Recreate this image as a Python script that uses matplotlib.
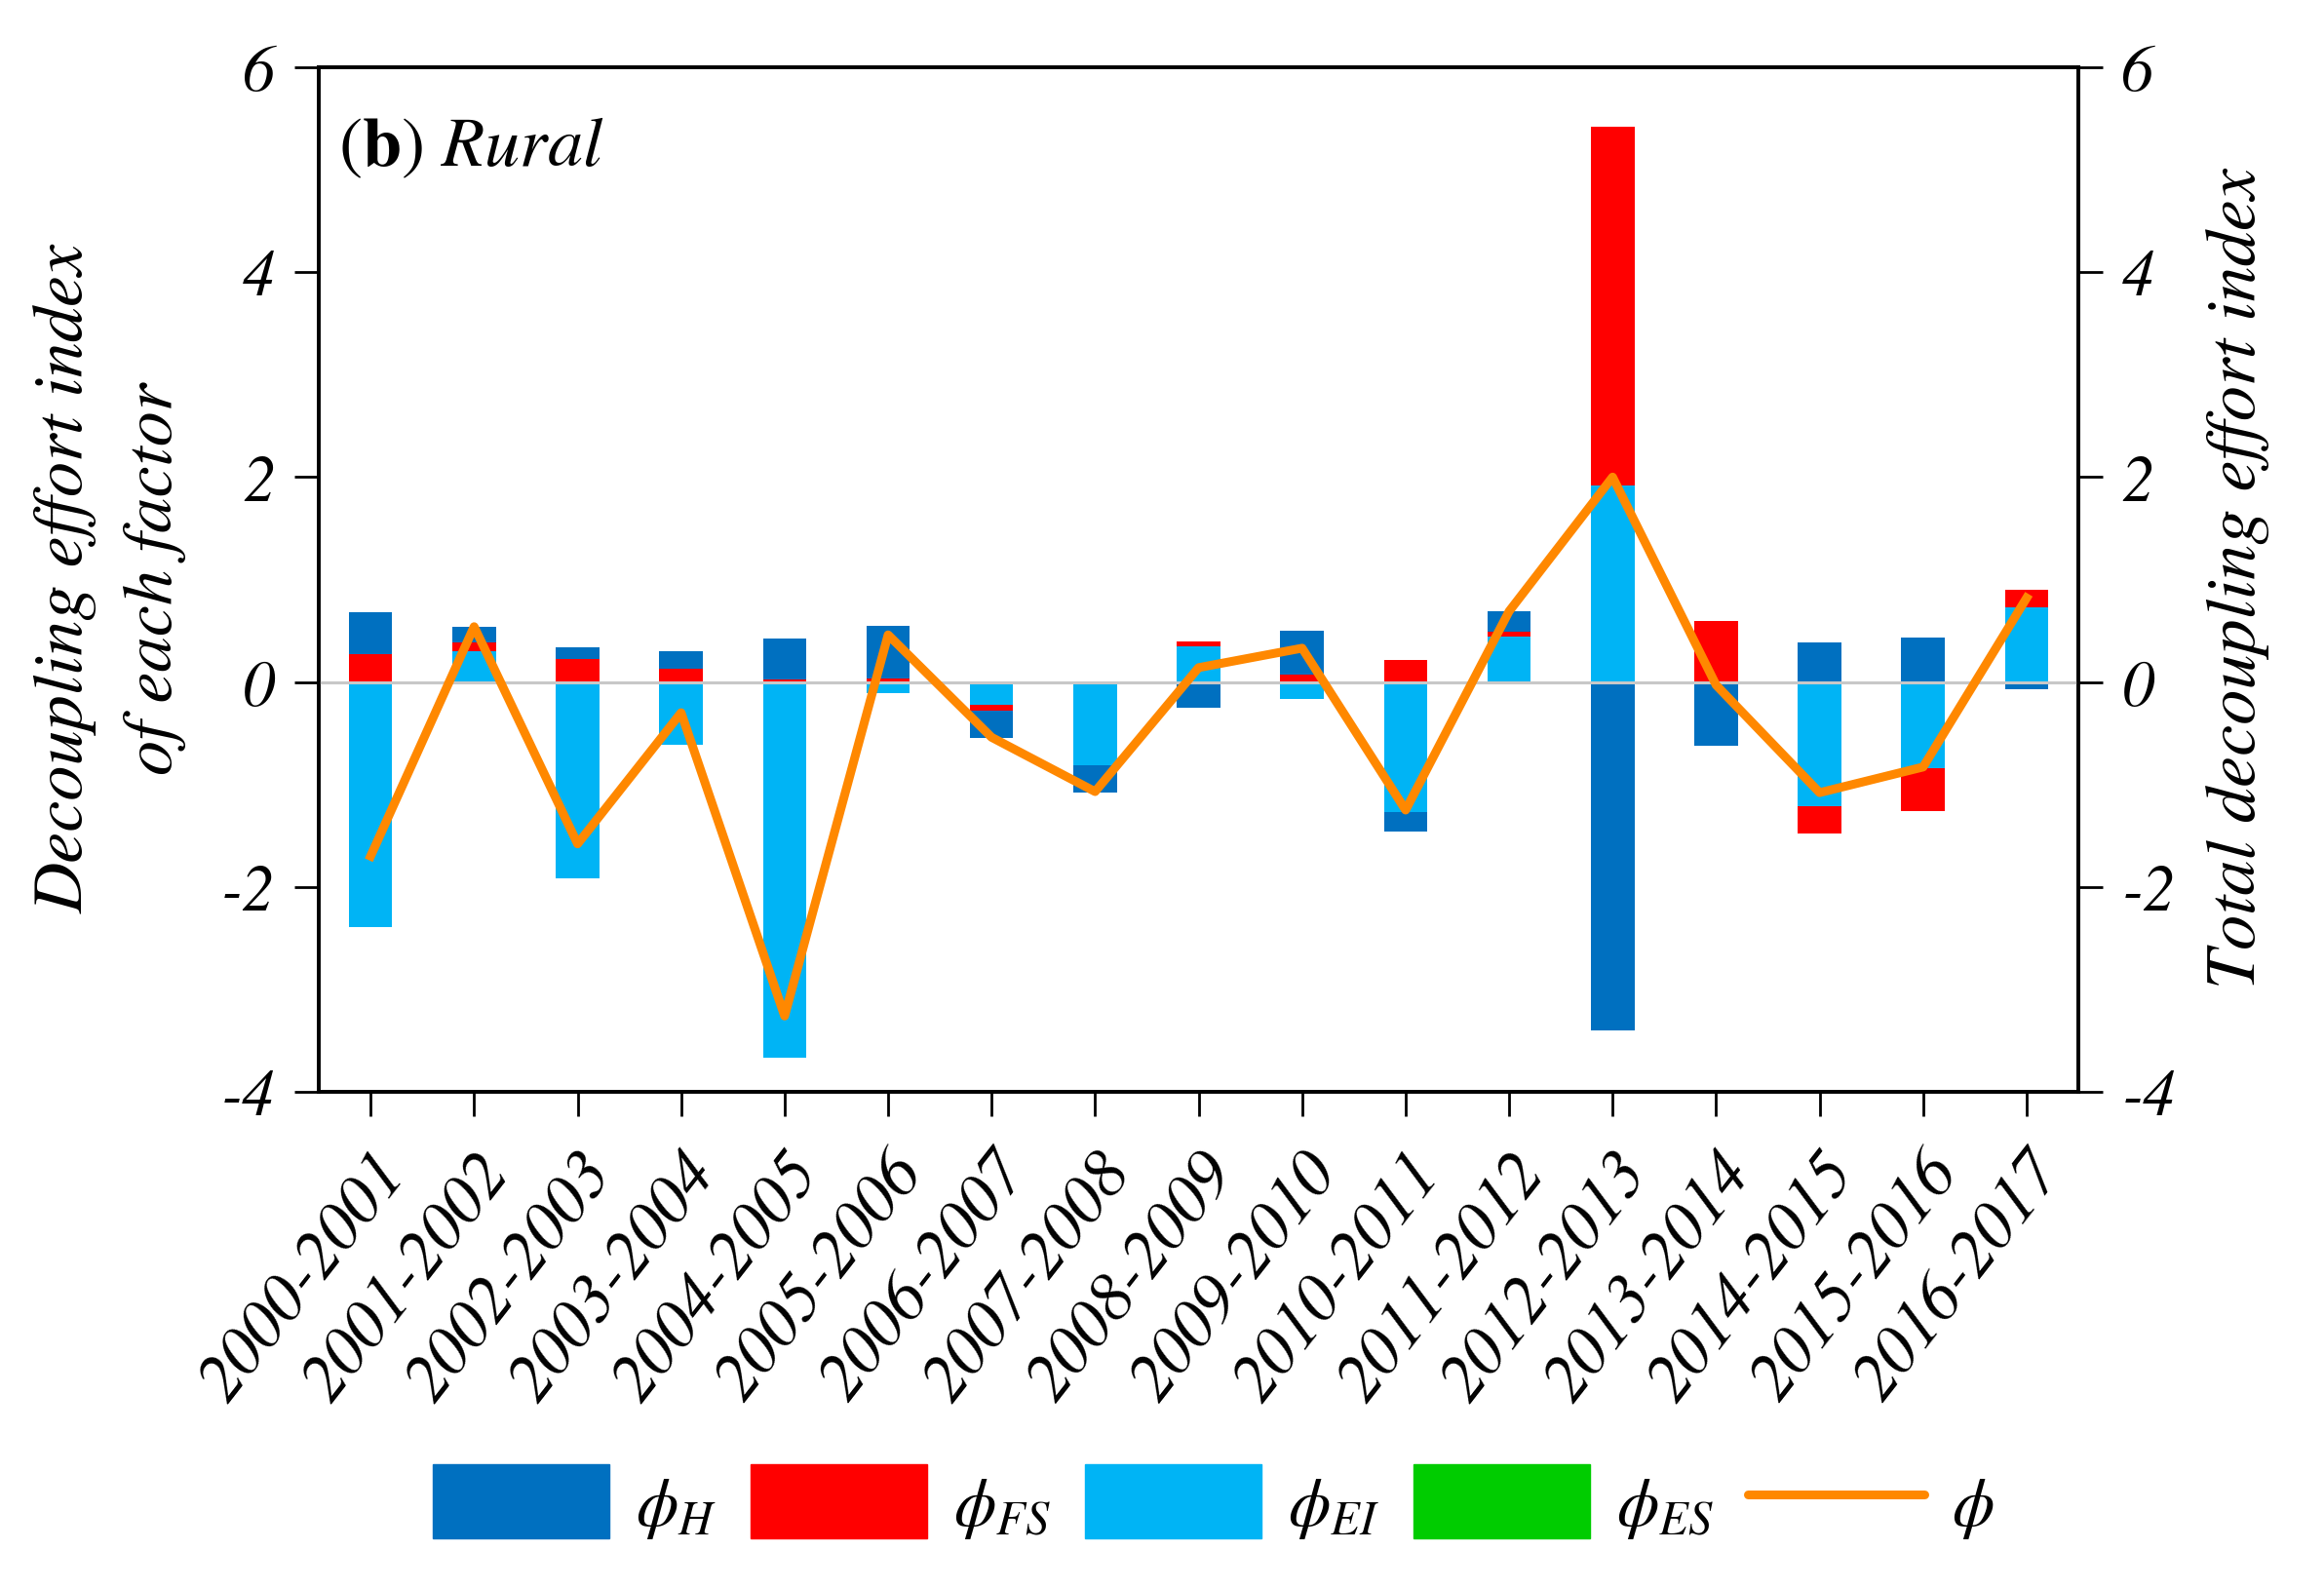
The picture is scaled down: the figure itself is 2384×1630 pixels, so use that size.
import numpy as np
import matplotlib
matplotlib.use('Agg')
import matplotlib.pyplot as plt
from matplotlib.patches import Patch
from matplotlib.lines import Line2D

periods = ['2000-2001', '2001-2002', '2002-2003', '2003-2004', '2004-2005',
           '2005-2006', '2006-2007', '2007-2008', '2008-2009', '2009-2010',
           '2010-2011', '2011-2012', '2012-2013', '2013-2014', '2014-2015',
           '2015-2016', '2016-2017']
phi_H = [0.414, 0.146, 0.119, 0.170, 0.400, 0.520, -0.270, -0.270, -0.254, 0.434,
         -0.197, 0.200, -3.404, -0.624, 0.382, 0.434, -0.075]
phi_FS = [0.268, 0.085, 0.220, 0.132, 0.020, 0.030, -0.058, 0.000, 0.047, 0.068,
          0.217, 0.047, 3.506, 0.600, -0.260, -0.424, 0.170]
phi_EI = [-2.390, 0.305, -1.913, -0.611, -3.670, -0.105, -0.220, -0.810, 0.349, -0.170,
          -1.265, 0.444, 1.914, 0.000, -1.217, -0.838, 0.729]
phi_ES = [0.0] * 17
phi_total = [-1.70, 0.54, -1.58, -0.30, -3.26, 0.46, -0.54, -1.07, 0.14, 0.33,
             -1.25, 0.69, 2.00, -0.03, -1.08, -0.83, 0.82]
yticks = [-4, -2, 0, 2, 4, 6]

c_H, c_FS, c_EI, c_ES, c_line = '#0070C0', '#FF0000', '#00B4F5', '#00CC00', '#FF8800'

plt.rcParams['font.family'] = 'STIXGeneral'
plt.rcParams['mathtext.fontset'] = 'stix'
plt.rcParams['axes.unicode_minus'] = False

fig = plt.figure(figsize=(23.84, 16.31), dpi=100)
ax = fig.add_axes([0.1372, 0.3127, 0.7571, 0.6444])
n = len(periods)
x = np.arange(n)
pos = np.zeros(n)
neg = np.zeros(n)
for vals, color in [(phi_EI, c_EI), (phi_FS, c_FS), (phi_H, c_H), (phi_ES, c_ES)]:
    v = np.array(vals)
    bottom = np.where(v >= 0, pos, neg)
    ax.bar(x, v, width=0.42, bottom=bottom, color=color, zorder=2, linewidth=0)
    pos += np.where(v >= 0, v, 0)
    neg += np.where(v < 0, v, 0)
ax.axhline(0, color='#C8C8C8', lw=2.2, zorder=3)

ax.set_xlim(-0.5, n - 0.5)
ax.set_ylim(-4, 6)
ax.set_yticks(yticks, labels=[str(t) for t in yticks], fontsize=48, fontstyle='italic')
ax.set_xticks(x, labels=periods, fontsize=50, fontstyle='italic', rotation=52,
              ha='right', rotation_mode='anchor')
ax.tick_params(axis='both', direction='out', length=18, width=2, pad=14)
ax.tick_params(axis='x', pad=20)
for sp in ax.spines.values():
    sp.set_linewidth(2.6)

ax2 = ax.twinx()
ax2.set_ylim(-4, 6)
ax2.set_yticks(yticks, labels=[str(t) for t in yticks], fontsize=48, fontstyle='italic')
ax2.tick_params(axis='y', direction='out', length=18, width=2, pad=14)
for sp in ax2.spines.values():
    sp.set_linewidth(2.6)
ax2.plot(x, phi_total, color=c_line, lw=6.5, zorder=5)

ax.text(0.011, 0.905, r'$(\mathbf{b})\ \mathit{Rural}$', transform=ax.transAxes,
        fontsize=52, ha='left', va='baseline')

fig.text(0.0474, 0.636, 'Decoupling effort index\nof each factor', rotation=90,
         ha='center', va='center', fontsize=52, fontstyle='italic',
         multialignment='center', linespacing=1.55)
fig.text(0.963, 0.6364, 'Total decoupling effort index', rotation=90,
         ha='center', va='center', fontsize=52, fontstyle='italic')

line_handle = Line2D([0], [0], color=c_line, lw=6.5, solid_capstyle='round')
handles = [Patch(color=c_H), Patch(color=c_FS), Patch(color=c_EI), Patch(color=c_ES),
           line_handle]
labels = [r'$\phi_H$', r'$\phi_{FS}$', r'$\phi_{EI}$', r'$\phi_{ES}$', r'$\phi$']
fig.legend(handles, labels, loc='center', bbox_to_anchor=(0.522, 0.0546), ncol=5,
           frameon=False, fontsize=50, handlelength=2.6, handleheight=1.3,
           handletextpad=0.4, columnspacing=0.5)

fig.savefig('out.png', dpi=100)
